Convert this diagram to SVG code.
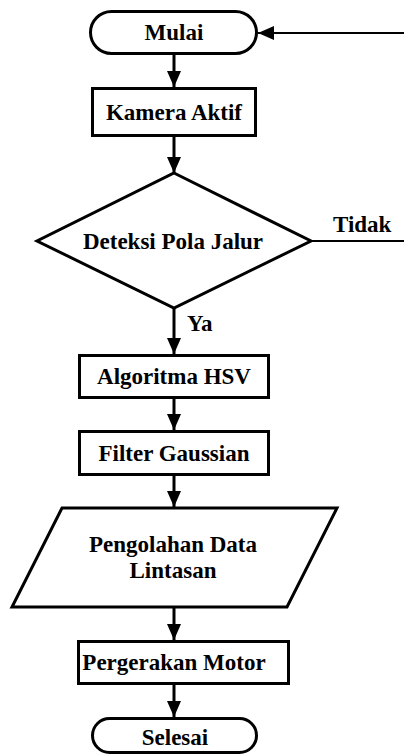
<svg xmlns="http://www.w3.org/2000/svg" width="404" height="756" viewBox="0 0 404 756">
  <defs>
    <style>
      .shape { fill: #ffffff; stroke: #000000; stroke-width: 3; stroke-linejoin: miter; }
      .conn { fill: none; stroke: #000000; stroke-width: 3; }
      .thin { fill: none; stroke: #000000; stroke-width: 2; }
      text { font-family: 'Liberation Serif', 'DejaVu Serif', serif; font-weight: 700; font-size: 23px; fill: #000000; }
      .mid { text-anchor: middle; }
    </style>
    <marker id="arrow" markerUnits="userSpaceOnUse" markerWidth="16" markerHeight="14" refX="16" refY="7" orient="auto" viewBox="0 0 16 14">
      <path d="M0,0 L16,7 L0,14 Z" fill="#000000"/>
    </marker>
  </defs>
  <rect width="404" height="756" fill="#ffffff"/>

  <g id="connectors">
    <line class="thin" x1="404" y1="33" x2="258" y2="33" marker-end="url(#arrow)"/>
    <line class="conn" x1="174" y1="55" x2="174" y2="87" marker-end="url(#arrow)"/>
    <line class="conn" x1="174" y1="137" x2="174" y2="173" marker-end="url(#arrow)"/>
    <line class="thin" x1="311" y1="241" x2="404" y2="241"/>
    <line class="conn" x1="174" y1="308" x2="174" y2="354" marker-end="url(#arrow)"/>
    <line class="conn" x1="174" y1="399" x2="174" y2="430" marker-end="url(#arrow)"/>
    <line class="conn" x1="174" y1="476" x2="174" y2="507" marker-end="url(#arrow)"/>
    <line class="conn" x1="174" y1="607" x2="174" y2="640" marker-end="url(#arrow)"/>
    <line class="conn" x1="174" y1="685" x2="174" y2="717" marker-end="url(#arrow)"/>
    <text x="333" y="232">Tidak</text>
    <text x="187" y="331">Ya</text>
  </g>

  <g id="mulai">
    <rect class="shape" x="90.5" y="11.5" width="166" height="42" rx="21" ry="21"/>
    <text class="mid" x="174" y="40">Mulai</text>
  </g>

  <g id="kamera-aktif">
    <rect class="shape" x="92.5" y="88.5" width="163" height="47"/>
    <text class="mid" x="174" y="119.5">Kamera Aktif</text>
  </g>

  <g id="deteksi-pola-jalur">
    <polygon class="shape" points="174,173 311,241 174,308 37,241"/>
    <text class="mid" x="173" y="249">Deteksi Pola Jalur</text>
  </g>

  <g id="algoritma-hsv">
    <rect class="shape" x="79.5" y="355.5" width="189" height="42"/>
    <text class="mid" x="174" y="384">Algoritma HSV</text>
  </g>

  <g id="filter-gaussian">
    <rect class="shape" x="79.5" y="431.5" width="189" height="43"/>
    <text class="mid" x="174" y="461">Filter Gaussian</text>
  </g>

  <g id="pengolahan-data-lintasan">
    <polygon class="shape" points="62,508 337,508 287,607 12,607"/>
    <text class="mid" x="173" y="552">Pengolahan Data</text>
    <text class="mid" x="173" y="578">Lintasan</text>
  </g>

  <g id="pergerakan-motor">
    <rect class="shape" x="78.5" y="641.5" width="210" height="42"/>
    <text class="mid" x="174" y="670">Pergerakan Motor</text>
  </g>

  <g id="selesai">
    <rect class="shape" x="92.5" y="718.5" width="164" height="34" rx="17" ry="17"/>
    <text class="mid" x="175" y="745">Selesai</text>
  </g>
</svg>
